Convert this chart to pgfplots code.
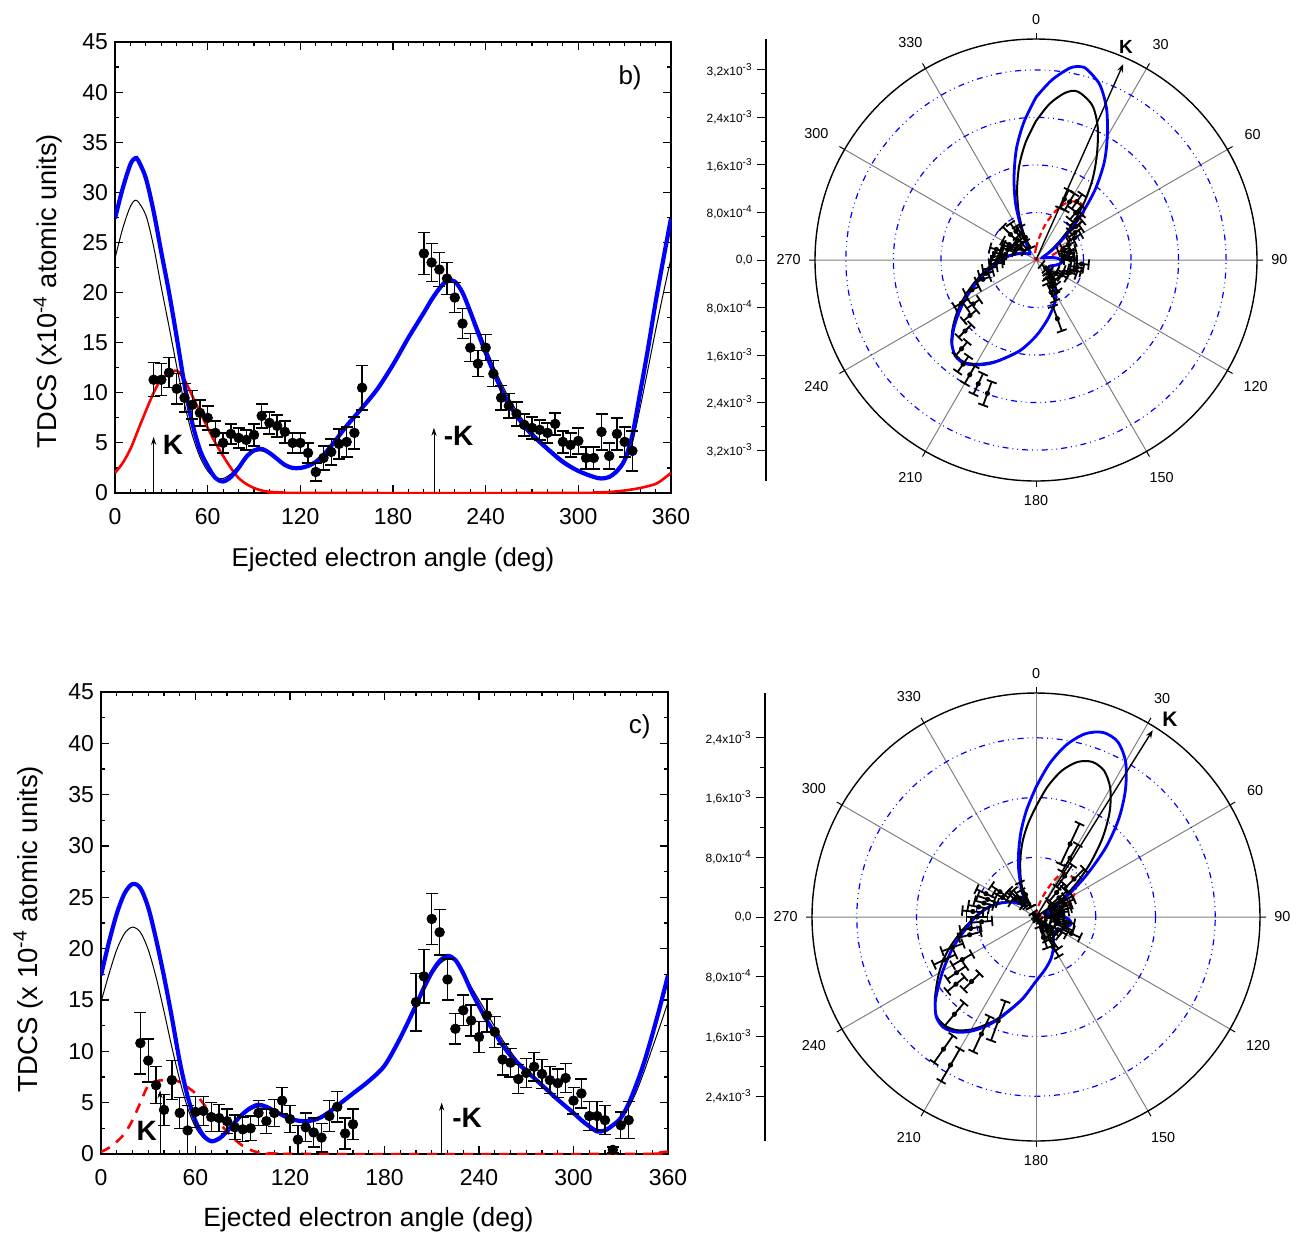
\documentclass[border=0pt]{standalone}
\usepackage{pgfplots}
\pgfplotsset{compat=1.18}
\usepackage{pgfplotstable}
\usepgfplotslibrary{polar}
\usetikzlibrary{arrows.meta}
\usepackage{fontspec}
\setmainfont{Liberation Sans}

\pgfplotstableread{
t v e
25 11.3 1.7
30 11.3 1.6
35 12.0 1.5
40 10.4 1.5
45 9.5 1.4
50 8.8 1.4
55 8.0 1.3
60 7.5 1.2
65 6.0 1.2
70 5.0 1.0
75 5.9 1.0
80 5.5 1.0
85 5.3 1.0
90 5.8 1.1
95 7.7 1.2
100 7.0 1.1
105 6.7 1.1
110 6.1 1.1
115 5.0 1.0
120 5.0 1.0
125 4.0 1.0
130 2.1 0.9
135 3.5 1.2
140 4.1 1.3
145 4.9 1.5
150 5.1 1.5
155 6.0 1.6
160 10.5 2.2
200 23.9 2.1
205 23.0 1.9
210 22.3 1.7
215 21.4 1.6
220 19.5 1.5
225 16.9 1.5
230 14.5 1.4
235 12.9 1.3
240 14.5 1.3
245 11.9 1.3
250 9.5 1.2
255 8.7 1.2
260 7.9 1.2
265 6.8 1.1
270 6.5 1.1
275 6.3 1.0
280 6.0 1.0
285 6.9 1.1
290 5.1 1.1
295 4.8 1.2
300 5.2 1.3
305 3.5 1.1
310 3.5 1.1
315 6.1 1.8
320 3.7 1.3
325 5.9 1.6
330 5.1 1.5
335 4.2 2.0
}\topExp

\pgfplotstableread{
t v
0 27.4
5 30.4
10 32.8
13 33.4
15 33.2
20 31.4
25 28.1
30 24.0
35 20.0
40 15.5
45 10.8
50 7.0
55 4.3
60 2.7
65 1.5
70 1.15
75 1.6
80 2.5
85 3.6
90 4.25
95 4.4
100 4.0
105 3.4
110 2.8
115 2.5
120 2.5
125 2.7
130 3.1
135 3.8
140 4.7
145 5.7
150 6.7
155 7.6
160 8.5
170 10.4
180 12.8
190 15.5
200 18.0
205 19.3
210 20.4
215 21.2
220 21.1
225 20.0
230 18.1
235 16.0
240 14.0
245 12.1
250 10.4
255 8.9
260 7.7
265 6.7
270 5.8
280 4.4
290 3.1
300 2.2
310 1.6
315 1.45
320 1.6
325 2.2
330 3.3
335 5.8
340 10.0
345 14.3
350 19.0
355 23.3
360 27.4
}\topBlue

\pgfplotstableread{
t v
0 23.4
5 26.4
10 28.6
14 29.2
20 27.7
25 24.6
30 20.5
35 16.6
40 12.6
45 8.9
50 5.8
55 3.6
60 2.2
65 1.5
70 1.45
75 1.9
80 2.7
85 3.5
90 4.1
95 4.2
100 3.9
105 3.3
110 2.75
115 2.45
120 2.45
125 2.65
130 3.0
135 3.7
140 4.6
145 5.6
150 6.6
155 7.6
160 8.5
170 10.4
180 12.8
190 15.4
200 17.9
205 19.1
210 20.2
215 21.0
220 21.0
225 20.1
230 18.4
235 16.5
240 14.6
245 12.7
250 11.0
255 9.5
260 8.2
265 7.1
270 6.1
280 4.6
290 3.3
300 2.3
310 1.7
315 1.55
320 1.6
325 2.0
330 3.0
335 5.0
340 8.5
345 12.3
350 16.2
355 19.9
360 23.4
}\topBlack

\pgfplotstableread{
t v
0 2.0
5 3.0
10 4.4
15 6.3
20 8.2
25 10.0
30 11.4
35 11.9
40 12.2
45 11.3
50 9.7
55 8.1
60 6.5
65 5.0
70 3.7
75 2.5
80 1.5
85 0.9
90 0.5
95 0.25
100 0.12
110 0.04
120 0
300 0
310 0.05
320 0.1
330 0.25
340 0.5
350 0.9
355 1.4
360 2.0
}\topRed

\pgfplotstableread{
t v e
25 10.8 3.0
30 9.1 2.1
35 6.7 1.8
40 4.3 1.5
45 7.2 1.9
50 4.0 1.5
55 2.3 2.4
60 4.1 1.5
65 4.2 1.4
70 3.6 1.4
75 3.5 1.3
80 3.2 1.2
85 2.6 1.2
90 2.4 1.2
95 2.5 1.2
100 4.0 1.2
105 3.2 1.2
110 4.0 1.3
115 5.2 1.3
120 3.4 1.3
125 1.4 1.4
130 2.6 1.4
135 2.1 1.4
140 1.6 1.4
145 3.7 1.5
150 4.6 1.5
155 2.0 1.5
160 2.9 1.5
200 14.8 2.8
205 17.3 2.6
210 22.9 2.5
215 21.6 2.2
220 17.0 2.0
225 12.2 1.5
230 14.0 1.5
235 13.0 1.5
240 11.4 1.5
245 13.5 1.6
250 11.9 1.5
255 9.2 1.5
260 8.9 1.4
265 7.3 1.4
270 7.9 1.4
275 8.5 1.4
280 7.8 1.4
285 7.2 1.3
290 6.9 1.4
295 7.4 1.4
300 5.2 1.3
305 5.9 1.4
310 3.7 1.4
315 3.7 1.4
320 3.3 1.4
325 0.4 0.3
330 2.8 1.3
335 3.3 1.8
}\botExp

\pgfplotstableread{
t v
0 17.4
5 20.6
10 23.4
15 25.4
20 26.3
25 25.9
30 24.0
35 20.9
40 17.3
45 13.3
50 9.0
55 5.6
60 3.2
65 1.8
70 1.25
75 1.5
80 2.2
85 3.1
90 3.9
95 4.5
100 4.8
105 4.6
110 4.2
115 3.8
120 3.45
125 3.25
130 3.2
135 3.3
140 3.6
145 4.1
150 4.7
160 5.9
170 7.1
180 8.6
190 11.3
200 14.5
205 16.2
210 17.7
215 18.8
220 19.3
225 18.9
230 17.6
235 15.9
240 14.4
245 13.0
250 11.8
255 10.6
260 9.6
265 8.8
270 8.1
280 6.7
290 5.3
300 4.0
305 3.3
310 2.7
315 2.2
320 2.3
325 2.8
330 3.5
335 4.9
340 6.8
345 9.0
350 11.6
355 14.4
360 17.4
}\botBlue

\pgfplotstableread{
t v
0 14.8
5 17.5
10 19.9
15 21.5
20 22.1
25 21.6
30 19.9
35 17.2
40 13.9
45 10.4
50 7.2
55 4.5
60 2.6
65 1.6
70 1.35
75 1.6
80 2.2
85 3.0
90 3.8
95 4.3
100 4.6
105 4.5
110 4.1
115 3.7
120 3.4
125 3.2
130 3.15
135 3.3
140 3.6
145 4.1
150 4.7
160 5.9
170 7.1
180 8.6
190 11.2
200 14.3
205 15.9
210 17.4
215 18.5
220 19.0
225 18.8
230 17.7
235 16.3
240 15.0
245 13.7
250 12.4
255 11.1
260 10.0
265 9.0
270 8.2
280 6.8
290 5.4
300 4.1
305 3.4
310 2.8
315 2.4
320 2.4
325 2.8
330 3.4
335 4.5
340 6.1
345 8.1
350 10.3
355 12.5
360 14.8
}\botBlack

\pgfplotstableread{
t v
0 0.2
5 0.6
10 1.2
15 2.0
20 3.3
25 5.0
30 6.7
35 7.1
40 7.2
45 7.3
50 7.0
55 6.5
60 5.9
65 4.9
70 3.9
75 3.0
80 2.2
85 1.4
90 0.8
95 0.4
100 0.15
110 0.05
120 0
340 0
350 0.05
360 0.25
}\botRed

% radial error bar mark: \errlen (pt) and \ang (deg) come from visualization depends on
\pgfdeclareplotmark{raderr}{%
  \pgfmathsetmacro\rca{\errlen*cos(\ang)}%
  \pgfmathsetmacro\rsa{\errlen*sin(\ang)}%
  \pgfmathsetmacro\cca{2.6*cos(\ang)}%
  \pgfmathsetmacro\csa{2.6*sin(\ang)}%
  \pgfpathmoveto{\pgfpoint{-(\rca)}{-(\rsa)}}%
  \pgfpathlineto{\pgfpoint{\rca}{\rsa}}%
  \pgfpathmoveto{\pgfpoint{(\rca)-(\csa)}{(\rsa)+(\cca)}}%
  \pgfpathlineto{\pgfpoint{(\rca)+(\csa)}{(\rsa)-(\cca)}}%
  \pgfpathmoveto{\pgfpoint{-(\rca)-(\csa)}{-(\rsa)+(\cca)}}%
  \pgfpathlineto{\pgfpoint{-(\rca)+(\csa)}{-(\rsa)-(\cca)}}%
  \pgfusepathqstroke
  \pgfpathcircle{\pgfpointorigin}{1.3pt}%
  \pgfusepathqfill
}

\pgfplotsset{
  lin/.style={
    scale only axis, xmin=0, xmax=360, ymin=0, ymax=45,
    xtick={0,60,...,360}, ytick={0,5,...,45},
    minor x tick num=5, minor y tick num=1,
    tick align=inside, major tick length=4pt, minor tick length=2pt,
    tick style={black, line width=0.6pt},
    axis line style={line width=0.8pt},
    tick label style={font=\fontsize{11.5}{12}\selectfont},
    xticklabel style={yshift=-4pt},
    /pgf/number format/assume math mode=true,
  },
  expstyle/.style={black, only marks, mark=*, mark size=2.4pt,
    error bars/.cd, y dir=both, y explicit,
    error mark=|,
    error bar style={line width=0.7pt},
    error mark options={line width=0.7pt, mark size=3pt}},
  polexp/.style={scatter, only marks, mark=raderr,
    scatter/use mapped color={draw=black, fill=black},
    mark options={line width=0.9pt},
    visualization depends on={90-\thisrow{t} \as \ang},
    visualization depends on={#1*\thisrow{e} \as \errlen}},
  pol/.style={
    scale only axis, ymin=0,
    xtick={0,30,60,120,150,180,210,240,300,330},
    xticklabels={90,60,30,330,300,270,240,210,150,120},
    extra x ticks={90,270}, extra x tick labels={0,180},
    ytick={8,16,24,32}, yticklabels={},
    ytick style={draw=none},
    xtick style={black, line width=0.5pt},
    major tick length=3pt,
    xmajorgrids, ymajorgrids,
    x grid style={gray, line width=0.5pt},
    y grid style={blue, dash dot dot, line width=0.6pt},
    axis line style={black, line width=0.7pt},
    y axis line style={draw=none},
    tick label style={font=\fontsize{7.2}{8}\selectfont},
    xticklabel style={inner sep=7pt},
  },
  radax/.style={
    scale only axis, width=10pt, xmin=0, xmax=1,
    axis x line=none, axis y line*=left,
    tick align=outside, major tick length=4.5pt, minor tick length=2.5pt,
    minor y tick num=1,
    tick style={black, line width=0.5pt},
    axis line style={line width=0.6pt},
    yticklabel style={font=\fontsize{6}{7}\selectfont, inner sep=2pt},
  },
}

\begin{document}
\begin{tikzpicture}
\useasboundingbox (0,0) rectangle (651pt,-619pt);

% ---------------- top left ----------------
\begin{axis}[lin, at={(57.5pt,-246.5pt)}, anchor=south west, width=278pt, height=225.5pt]
\addplot[red, line width=1.3pt, smooth] table[x=t,y=v]{\topRed};
\addplot[black, line width=0.5pt, smooth] table[x=t,y=v]{\topBlack};
\addplot[blue, line width=2.1pt, smooth] table[x=t,y=v]{\topBlue};
\addplot[expstyle] table[x=t, y=v, y error=e]{\topExp};
\draw[-{Stealth[length=4pt,width=2.6pt]}, line width=0.4pt] (axis cs:25,0) -- (axis cs:25,5.6);
\node[font=\fontsize{14}{14}\bfseries\selectfont] at (axis cs:37.5,4.8) {K};
\draw[-{Stealth[length=4pt,width=2.6pt]}, line width=0.4pt] (axis cs:206.5,0) -- (axis cs:206.5,6.5);
\node[font=\fontsize{14}{14}\bfseries\selectfont] at (axis cs:222.5,5.7) {-K};
\node[font=\fontsize{13}{13}\selectfont] at (axis cs:333.5,41.4) {b)};
\end{axis}

% ---------------- bottom left ----------------
\begin{axis}[lin, at={(50.5pt,-577pt)}, anchor=south west, width=283.5pt, height=231pt]
\addplot[red, line width=1.3pt, dashed, dash pattern=on 5pt off 4pt, smooth] table[x=t,y=v]{\botRed};
\addplot[black, line width=0.5pt, smooth] table[x=t,y=v]{\botBlack};
\addplot[blue, line width=2.1pt, smooth] table[x=t,y=v]{\botBlue};
\addplot[expstyle] table[x=t, y=v, y error=e]{\botExp};
\draw[-{Stealth[length=4pt,width=2.6pt]}, line width=0.4pt] (axis cs:37.5,0) -- (axis cs:37.5,6.2);
\node[font=\fontsize{14}{14}\bfseries\selectfont] at (axis cs:29,2.3) {K};
\draw[-{Stealth[length=4pt,width=2.6pt]}, line width=0.4pt] (axis cs:216.3,0) -- (axis cs:216.3,5.0);
\node[font=\fontsize{14}{14}\bfseries\selectfont] at (axis cs:232.5,3.5) {-K};
\node[font=\fontsize{13}{13}\selectfont] at (axis cs:342,41.6) {c)};
\end{axis}

% ---------------- radial axes ----------------
\begin{axis}[radax, at={(383pt,-240.5pt)}, anchor=south west, height=221pt,
  ymin=-37.2, ymax=37.2, ytick={-32,-24,-16,-8,0,8,16,24,32},
  yticklabels={{3,2x10\textsuperscript{-3}},{2,4x10\textsuperscript{-3}},{1,6x10\textsuperscript{-3}},{8,0x10\textsuperscript{-4}},{0,0},{8,0x10\textsuperscript{-4}},{1,6x10\textsuperscript{-3}},{2,4x10\textsuperscript{-3}},{3,2x10\textsuperscript{-3}}}]
\end{axis}
\begin{axis}[radax, at={(382.5pt,-570.5pt)}, anchor=south west, height=224pt,
  ymin=-30, ymax=30, ytick={-24,-16,-8,0,8,16,24},
  yticklabels={{2,4x10\textsuperscript{-3}},{1,6x10\textsuperscript{-3}},{8,0x10\textsuperscript{-4}},{0,0},{8,0x10\textsuperscript{-4}},{1,6x10\textsuperscript{-3}},{2,4x10\textsuperscript{-3}}}]
\end{axis}

% ---------------- top polar ----------------
\begin{polaraxis}[pol, at={(518pt,-130pt)}, anchor=center, width=221pt, height=221pt, ymax=37.2,
  extra x tick style={grid=none}]
\addplot[red, densely dashed, line width=1.1pt, smooth] table[x expr=90-\thisrow{t}, y=v]{\topRed};
\addplot[black, line width=1pt, smooth] table[x expr=90-\thisrow{t}, y=v]{\topBlack};
\addplot[blue, line width=1.4pt, smooth] table[x expr=90-\thisrow{t}, y=v]{\topBlue};
\addplot[polexp=2.9704] table[x expr=90-\thisrow{t}, y=v]{\topExp};
\draw[-{Stealth[length=4pt,width=3pt]}, line width=0.7pt] (axis cs:0,0) -- (axis cs:66,36.1);
\end{polaraxis}

% ---------------- bottom polar ----------------
\begin{polaraxis}[pol, at={(518pt,-458.5pt)}, anchor=center, width=224pt, height=224pt, ymax=30]
\addplot[red, densely dashed, line width=1.1pt, smooth] table[x expr=90-\thisrow{t}, y=v]{\botRed};
\addplot[black, line width=1pt, smooth] table[x expr=90-\thisrow{t}, y=v]{\botBlack};
\addplot[blue, line width=1.4pt, smooth] table[x expr=90-\thisrow{t}, y=v]{\botBlue};
\addplot[polexp=3.7333] table[x expr=90-\thisrow{t}, y=v]{\botExp};
\draw[-{Stealth[length=4pt,width=3pt]}, line width=0.7pt] (axis cs:0,0) -- (axis cs:58,29.5);
\end{polaraxis}

% ---------------- labels ----------------
\node[rotate=90, font=\fontsize{13.6}{14}\selectfont] at (24pt,-145.5pt) {TDCS (x10\textsuperscript{-4} atomic units)};
\node[font=\fontsize{12.9}{14}\selectfont] at (196.5pt,-280pt) {Ejected electron angle (deg)};
\node[rotate=90, font=\fontsize{13.8}{14}\selectfont] at (14pt,-464.5pt) {TDCS (x 10\textsuperscript{-4} atomic units)};
\node[font=\fontsize{13.2}{14}\selectfont] at (184.25pt,-610pt) {Ejected electron angle (deg)};
\node[font=\fontsize{9.5}{10}\bfseries\selectfont] at (563pt,-23.5pt) {K};
\node[font=\fontsize{10.5}{11}\bfseries\selectfont] at (585pt,-359.5pt) {K};
\end{tikzpicture}
\end{document}
